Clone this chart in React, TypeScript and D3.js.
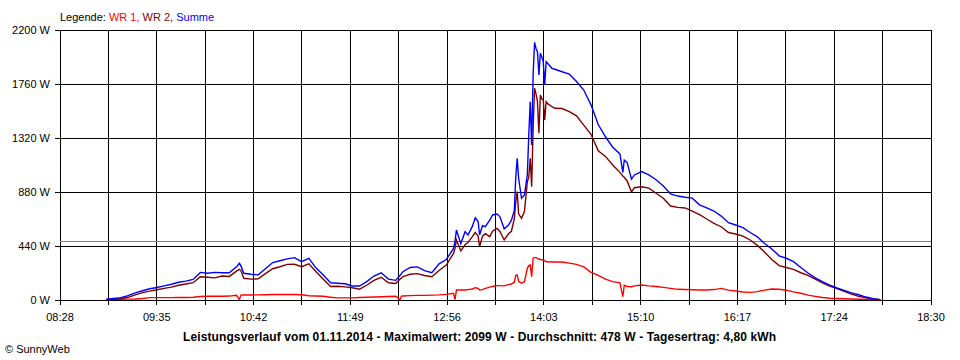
import * as d3 from "d3";

// Zeitpunkte der Messwerte (hh:mm)
const times = [
  "09:00","09:05","09:10","09:15","09:20","09:25","09:30","09:35","09:40","09:45","09:50","09:55",
  "10:00","10:05","10:10","10:15","10:20","10:25","10:30","10:32","10:33","10:35","10:40","10:45","10:50","10:55",
  "11:00","11:05","11:10","11:15","11:20","11:25","11:30","11:35","11:40","11:45","11:50","11:55",
  "12:00","12:05","12:10","12:15","12:20","12:23","12:24","12:25","12:30","12:35","12:40","12:45","12:50","12:55",
  "13:00","13:01","13:02","13:05","13:08","13:10","13:13","13:15","13:17","13:18","13:20","13:22","13:25","13:27",
  "13:30","13:32","13:35","13:38","13:40","13:42","13:43","13:44","13:45","13:47","13:49","13:51","13:52","13:53",
  "13:54","13:55","13:56","13:57","13:58","13:59","14:00","14:01","14:02","14:03","14:04","14:05","14:08","14:10",
  "14:15","14:20","14:25","14:30","14:35","14:40","14:45","14:50","14:55","14:57","14:58",
  "15:00","15:03","15:05","15:10","15:15","15:20","15:25","15:30","15:35","15:40","15:45","15:50","15:55",
  "16:00","16:05","16:10","16:15","16:20","16:25","16:30","16:35","16:40","16:45","16:50","16:55",
  "17:00","17:05","17:10","17:15","17:20","17:25","17:30","17:35","17:40","17:45","17:50","17:55",
];

// WR 1 (W)
const wr1 = [
  3,5,6,7,8,12,19,19,19,19,20,20,
  22,28,30,30,30,32,38,3,40,41,41,42,43,45,
  45,45,45,43,35,33,30,22,17,17,17,20,
  22,25,27,28,30,3,32,33,36,38,38,40,42,46,
  54,3,81,81,81,85,90,100,95,81,85,95,105,110,
  117,117,115,125,130,145,200,204,150,136,149,258,280,285,
  190,340,345,345,340,334,330,328,326,320,312,312,310,310,
  310,300,290,270,225,200,170,150,140,27,120,
  110,108,115,122,115,110,103,95,87,85,83,81,82,
  85,95,80,73,65,62,68,80,90,88,80,66,
  55,40,30,20,14,12,10,8,6,5,3,1,
];

// WR 2 (W)
const wr2 = [
  3,6,10,22,42,60,72,84,95,105,120,130,
  141,190,185,180,195,192,235,250,240,177,170,172,215,255,
  271,290,291,271,295,230,170,110,112,107,100,88,
  120,160,185,140,135,170,180,190,210,215,200,190,240,285,
  380,420,490,400,450,470,516,550,520,434,520,540,516,560,
  584,560,489,540,560,660,800,883,700,666,720,964,1000,1155,
  923,1399,1725,1680,1616,1358,1670,1640,1630,1467,1616,1600,1575,1562,
  1560,1535,1500,1425,1350,1215,1170,1100,1040,1010,1000,
  970,880,915,923,912,870,829,766,755,750,725,695,660,
  625,597,550,538,521,489,445,390,330,280,265,250,
  222,200,170,140,114,92,70,48,30,18,8,2,
];

// Summe (W)
const summe = [
  6,12,19,36,58,75,92,102,115,128,145,154,
  168,225,218,225,222,222,270,299,280,218,210,205,255,305,
  320,335,345,312,340,260,204,140,136,132,114,114,
  150,195,222,170,160,200,215,230,265,270,240,222,295,330,
  420,480,570,460,557,530,600,670,640,530,605,597,650,693,
  700,680,580,610,650,730,1000,1155,990,829,856,1019,1345,1616,
  1263,1833,2099,2050,2023,1833,2010,1980,1942,1752,1942,1929,1888,1880,
  1860,1840,1780,1711,1590,1430,1330,1245,1190,1040,1140,
  1120,985,1019,1046,1020,980,929,864,847,837,830,775,750,
  725,684,630,611,590,550,515,460,415,360,340,312,
  265,220,180,150,122,98,78,58,43,24,10,3,
];

const yTicks = [0, 440, 880, 1320, 1760, 2200];
const xTickLabels = ["08:28", "09:35", "10:42", "11:49", "12:56", "14:03", "15:10", "16:17", "17:24", "18:30"];
const average = 478;

const title =
  "Leistungsverlauf vom 01.11.2014 - Maximalwert: 2099 W - Durchschnitt: 478 W - Tagesertrag: 4,80 kWh";

const WIDTH = 960;
const HEIGHT = 360;
const MARGIN = { top: 30, right: 29, bottom: 60, left: 60 };
const FONT = "'Liberation Sans', Arial, sans-serif";

const toMin = (s: string) => {
  const [h, m] = s.split(":").map(Number);
  return h * 60 + m;
};

const series = [
  { name: "WR 1", values: wr1, color: "#ff0000" },
  { name: "WR 2", values: wr2, color: "#800000" },
  { name: "Summe", values: summe, color: "#0000ff" },
];

export default function App() {
  const t0 = toMin(xTickLabels[0]);
  const t1 = toMin(xTickLabels[xTickLabels.length - 1]);
  const xScale = d3.scaleLinear().domain([t0, t1]).range([MARGIN.left, WIDTH - MARGIN.right]);
  const yScale = d3.scaleLinear().domain([0, 2200]).range([HEIGHT - MARGIN.bottom, MARGIN.top]);

  const x0 = MARGIN.left;
  const x1 = WIDTH - MARGIN.right;
  const yBottom = HEIGHT - MARGIN.bottom;

  // 18 Intervalle, jedes zweite beschriftet
  const xTicks = d3.range(19).map((i) => t0 + (i * (t1 - t0)) / 18);

  const mins = times.map(toMin);
  const line = (vals: number[]) =>
    d3
      .line<number>()
      .x((_, i) => xScale(mins[i]))
      .y((d) => yScale(d))
      .curve(d3.curveLinear)(vals) ?? "";

  return (
    <svg
      width={WIDTH}
      height={HEIGHT}
      style={{ position: "absolute", left: 0, top: 0, background: "#fff" }}
      fontFamily={FONT}
      fontSize={11}
    >
      <text x={60} y={20.5}>
        <tspan fill="#000">Legende: </tspan>
        <tspan fill="#ff0000">WR 1, </tspan>
        <tspan fill="#800000">WR 2, </tspan>
        <tspan fill="#0000ff">Summe</tspan>
      </text>

      {/* Gitter */}
      <g stroke="#000" strokeWidth={1} shapeRendering="crispEdges">
        {xTicks.map((t, i) => (
          <line key={"v" + i} x1={xScale(t)} x2={xScale(t)} y1={MARGIN.top} y2={yBottom + 5} />
        ))}
        {yTicks.map((v) => (
          <line key={"h" + v} x1={x0 - 5} x2={x1} y1={yScale(v)} y2={yScale(v)} />
        ))}
      </g>

      {/* Durchschnitt */}
      <line
        x1={x0}
        x2={x1}
        y1={yScale(average)}
        y2={yScale(average)}
        stroke="#808080"
        strokeWidth={1}
        shapeRendering="crispEdges"
      />

      {series.map((s) => (
        <path key={s.name} d={line(s.values)} fill="none" stroke={s.color} strokeWidth={1.4} strokeLinejoin="miter" />
      ))}

      {yTicks.map((v) => (
        <text key={"yl" + v} x={50} y={yScale(v) + 4} textAnchor="end" fill="#000">
          {v} W
        </text>
      ))}

      {xTicks.map((t, i) =>
        i % 2 === 0 ? (
          <text key={"xl" + i} x={xScale(t)} y={321} textAnchor="middle" fill="#000">
            {xTickLabels[i / 2]}
          </text>
        ) : null
      )}

      <text
        x={183}
        y={341}
        fontWeight="bold"
        fontSize={12}
        textLength={593}
        lengthAdjust="spacing"
        fill="#000"
      >
        {title}
      </text>
      <text x={5} y={353} fill="#000">
        © SunnyWeb
      </text>
    </svg>
  );
}
